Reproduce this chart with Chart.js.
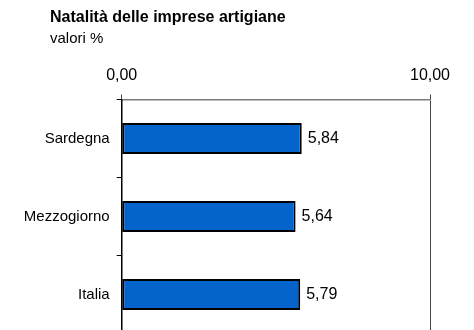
<!DOCTYPE html>
<html>
<head>
<meta charset="utf-8">
<script src="https://cdn.jsdelivr.net/npm/chart.js@4/dist/chart.umd.min.js"></script>
<style>
  html, body { margin: 0; padding: 0; background: #fff; overflow: hidden; }
  #wrap { position: relative; width: 474px; height: 330px; overflow: hidden; }
  #wrap canvas { position: absolute; left: 0; top: 0; }
  .ttl { position: absolute; left: 50px; white-space: nowrap; color: #000;
         font-family: "Liberation Sans", Arial, sans-serif; }
  #title { top: 7px; font-size: 16px; line-height: 19px; font-weight: bold; }
  #subtitle { top: 29px; font-size: 15px; line-height: 18px; }
</style>
</head>
<body>
<div id="wrap">
  <canvas id="myChart" width="474" height="340"></canvas>
  <div class="ttl" id="title">Natalità delle imprese artigiane</div>
  <div class="ttl" id="subtitle">valori %</div>
</div>
<script>
// chart data
var categories = ['Sardegna', 'Mezzogiorno', 'Italia'];
var values = [5.84, 5.64, 5.79];
var axisTicks = [0, 10];

function fmt(v) {
    return v.toFixed(2).replace('.', ',');
}

// draws the value to the right of each bar
var valueLabels = {
    id: 'valueLabels',
    afterDatasetsDraw: function(chart) {
        var ctx = chart.ctx;
        var meta = chart.getDatasetMeta(0);
        ctx.save();
        ctx.fillStyle = '#000';
        ctx.font = '16px "Liberation Sans", Arial, sans-serif';
        ctx.textAlign = 'left';
        ctx.textBaseline = 'middle';
        meta.data.forEach(function(bar, i) {
            ctx.fillText(fmt(values[i]), bar.x + 6, bar.y);
        });
        ctx.restore();
    }
};

document.addEventListener("DOMContentLoaded", function() {
    Chart.defaults.font.family = '"Liberation Sans", Arial, sans-serif';
    Chart.defaults.color = '#000';
    var ctx = document.getElementById('myChart').getContext('2d');
    if (ctx) {
        var myChart = new Chart(ctx, {
            type: 'bar',
            data: {
                labels: categories,
                datasets: [{
                    data: values,
                    backgroundColor: '#0563cc',
                    borderColor: '#000',
                    borderWidth: 2,
                    borderSkipped: false,
                    barPercentage: 0.4,
                    categoryPercentage: 1
                }]
            },
            options: {
                indexAxis: 'y',
                responsive: false,
                animation: false,
                layout: { padding: { left: 0, right: 44, top: 0, bottom: 6.5 } },
                plugins: {
                    legend: { display: false },
                    tooltip: { enabled: false }
                },
                scales: {
                    x: {
                        position: 'top',
                        min: axisTicks[0],
                        max: axisTicks[1],
                        afterBuildTicks: function(scale) {
                            scale.ticks = axisTicks.map(function(v) { return { value: v }; });
                        },
                        // keeps the plot top where the reference has it
                        afterFit: function(scale) { scale.height = 99.5; },
                        ticks: {
                            font: { size: 16 },
                            padding: 9,
                            maxRotation: 0,
                            callback: function(v) { return fmt(v); }
                        },
                        grid: { color: '#444', lineWidth: 1, tickLength: 5 },
                        border: { color: '#7a7a7a', width: 1.5 }
                    },
                    y: {
                        afterFit: function(scale) {
                            scale.width = 121.7;
                            // the plot runs off the bottom of the picture
                            scale.paddingTop = 0;
                            scale.paddingBottom = 0;
                        },
                        ticks: { font: { size: 15 }, padding: 7 },
                        grid: { drawOnChartArea: false, color: '#000', tickLength: 5 },
                        border: { color: '#000', width: 1.5 }
                    }
                }
            },
            plugins: [valueLabels]
        });
    } else {
        console.error("Canvas element with ID 'myChart' not found.");
    }
});
</script>
</body>
</html>
